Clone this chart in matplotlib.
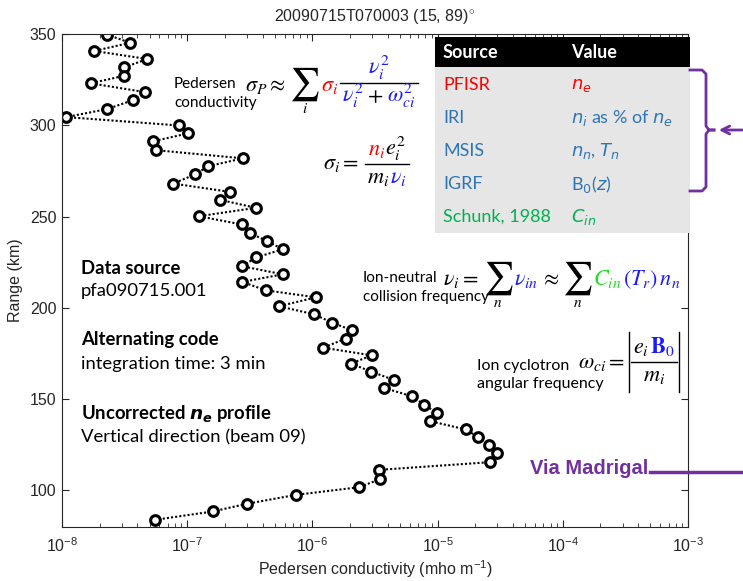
import numpy as np
import matplotlib
matplotlib.use('Agg')
import matplotlib.pyplot as plt
from matplotlib.lines import Line2D
from matplotlib.patches import Rectangle, FancyArrowPatch
from matplotlib.transforms import IdentityTransform

plt.rcParams['font.family'] = ['Liberation Sans', 'DejaVu Sans']
plt.rcParams['mathtext.fontset'] = 'custom'
plt.rcParams['mathtext.rm'] = 'Liberation Sans'
plt.rcParams['mathtext.it'] = 'Liberation Sans:italic'
plt.rcParams['mathtext.bf'] = 'Liberation Sans:bold'

# Pedersen conductivity profile (mho/m) vs range (km)
sigma_p = [2.28e-8, 3.5e-8, 1.81e-8, 4.8e-8, 3.13e-8, 3.13e-8, 1.69e-8, 4.6e-8, 3.7e-8, 2.3e-8,
           1.08e-8, 8.6e-8, 1.02e-7, 5.3e-8, 5.6e-8, 2.77e-7, 1.46e-7, 1.16e-7, 7.7e-8, 2.21e-7,
           1.82e-7, 3.54e-7, 1.24e-7, 2.72e-7, 3.18e-7, 4.3e-7, 5.8e-7, 3.54e-7, 2.75e-7, 5.8e-7,
           2.75e-7, 4.26e-7, 1.07e-6, 5.4e-7, 1.03e-6, 1.44e-6, 2.08e-6, 1.85e-6, 1.22e-6, 2.98e-6,
           2.03e-6, 2.95e-6, 4.49e-6, 3.75e-6, 6.3e-6, 7.8e-6, 9.8e-6, 8.7e-6, 1.68e-5, 2.11e-5,
           2.57e-5, 2.96e-5, 2.62e-5, 3.42e-6, 3.47e-6, 2.36e-6, 7.4e-7, 2.99e-7, 1.6e-7, 5.5e-8]
range_km = [349.7, 345.2, 340.7, 336.3, 331.7, 327.1, 323.0, 318.2, 313.8, 308.9,
            304.5, 299.9, 295.6, 291.2, 286.4, 281.9, 277.5, 273.1, 268.1, 263.5,
            259.2, 254.8, 250.2, 245.7, 241.0, 236.7, 232.1, 227.6, 222.8, 218.4,
            214.2, 209.6, 205.8, 200.9, 196.5, 191.9, 187.7, 183.2, 178.2, 174.0,
            169.5, 165.1, 160.5, 156.1, 151.5, 147.0, 142.6, 138.0, 133.4, 129.2,
            124.7, 120.5, 115.5, 111.3, 106.2, 101.8, 97.6, 92.7, 88.5, 83.9]

xticks = [1e-8, 1e-7, 1e-6, 1e-5, 1e-4, 1e-3]
yticks = [100, 150, 200, 250, 300, 350]

table_sources = ['PFISR', 'IRI', 'MSIS', 'IGRF', 'Schunk, 1988']
table_values = [r'$n_e$', r'$n_i$ as % of $n_e$', r'$n_n$, $T_n$', r'B$_0$($z$)', r'$C_{in}$']
table_colors = ['#ff0000', '#2e75b6', '#2e75b6', '#2e75b6', '#00b050']

W, H = 743, 581
purple = '#7030a0'
blue = '#1a1aff'
red = '#ff0000'
green = '#22dd22'
EQ = 16      # equation font size
SUB = 11     # summation index size
SIG = 24     # big sum size

fig = plt.figure(figsize=(W / 100, H / 100), dpi=100)
ax = fig.add_axes([62 / W, 1 - 527 / H, (688 - 62) / W, (527 - 34) / H])

ax.plot(sigma_p, range_km, color='k', linestyle=(0, (1, 1)), linewidth=1.5,
        marker='o', markersize=7, markerfacecolor='white', markeredgecolor='k',
        markeredgewidth=2.2)

ax.set_xscale('log')
ax.set_xlim(1e-8, 1e-3)
ax.set_ylim(80, 350)
ax.set_xticks(xticks)
ax.set_yticks(yticks)
ax.tick_params(which='both', direction='in', top=True, right=True, colors='#262626',
               labelsize=11.5)
ax.tick_params(which='major', length=5)
ax.tick_params(which='minor', length=3)
ax.tick_params(axis='x', pad=7)
ax.tick_params(axis='y', pad=4)
for s in ax.spines.values():
    s.set_color('#262626')
ax.set_xlabel('Pedersen conductivity (mho m$^{-1}$)', fontsize=11.5, color='#262626',
              labelpad=2)
ax.set_ylabel('Range (km)', fontsize=11.5, color='#262626', labelpad=5)
ax.set_title(r'20090715T070003 (15, 89)$^{\circ}$', fontsize=11.5, color='#262626', pad=9)

renderer = fig.canvas.get_renderer()
ident = IdentityTransform()


def ftext(x, y, s, **kw):
    return fig.text(x / W, 1 - y / H, s, **kw)


def put(x, y, s, color='k', size=EQ, ha='left', va='baseline'):
    # x, y in pixels from the top-left corner
    return fig.text(x, H - y, s, color=color, fontsize=size, ha=ha, va=va,
                    math_fontfamily='stix', transform=ident, zorder=6)


def fline(xs, ys, color='k', lw=1.0):
    fig.add_artist(Line2D([x / W for x in xs], [1 - y / H for y in ys], color=color,
                          linewidth=lw, zorder=6))


def row(x, y, items, gap=0.5):
    # items: (mathtext, color[, extra gap]) or ('SUM', index)
    texts = []
    for item in items:
        if item[0] == 'SUM':
            t = put(x, y - 7, r'$\sum$', size=SIG, va='center')
            bb = t.get_window_extent(renderer)
            s = put((bb.x0 + bb.x1) / 2, y + 18, '$' + item[1] + '$', size=SUB,
                    ha='center', va='center')
            texts += [t, s]
            x = bb.x1 + gap
        else:
            t = put(x, y, item[0], color=item[1])
            texts.append(t)
            extra = item[2] if len(item) > 2 else 0
            x = t.get_window_extent(renderer).x1 + gap + extra
    return texts, x


def frac(x, ybar, num, den, pad=2):
    nt, nx = row(x, ybar - 9, num)
    dt, dx = row(x, ybar + 19, den)
    wn, wd = nx - x, dx - x
    w = max(wn, wd)
    for t in nt:
        t.set_x(t.get_position()[0] + (w - wn) / 2)
    for t in dt:
        t.set_x(t.get_position()[0] + (w - wd) / 2)
    fline([x - pad, x + w + pad], [ybar, ybar])
    return x + w + pad


def label2(x, y1, y2, l1, l2, size):
    ftext(x, y1, l1, fontsize=size, family=lato, va='center')
    ftext(x, y2, l2, fontsize=size, family=lato, va='center')


lato = ['Lato', 'DejaVu Sans']

# left annotations
ftext(81, 268, 'Data source', fontsize=13.3, fontweight='bold', family=lato, va='center')
ftext(81, 291, 'pfa090715.001', fontsize=13.3, family=lato, va='center')
ftext(81, 340, 'Alternating code', fontsize=13.3, fontweight='bold', family=lato, va='center')
ftext(81, 364, 'integration time: 3 min', fontsize=13.3, family=lato, va='center')
ftext(81, 413, r'Uncorrected $\mathbfit{n_e}$ profile', fontsize=13.3, fontweight='bold',
      family=lato, va='center', math_fontfamily='dejavusans')
ftext(81, 437, 'Vertical direction (beam 09)', fontsize=13.3, family=lato, va='center')

# Pedersen conductivity equation
label2(174, 84, 103, 'Pedersen', 'conductivity', 11)
_, xe = row(245, 91, [(r'$\sigma_P \approx$', 'k', 3), ('SUM', 'i'), (r'$\sigma_i$', red)])
frac(xe + 4, 83, [(r'$\nu_i^2$', blue)],
     [(r'$\nu_i^2$', blue, 3), (r'$+$', 'k', 3), (r'$\omega_{ci}^2$', blue)])

# sigma_i
_, xe = row(323, 169, [(r'$\sigma_i =$', 'k')])
frac(xe + 8, 164, [(r'$n_i$', red), (r'$e_i^2$', 'k')], [(r'$m_i$', 'k'), (r'$\nu_i$', blue)])

# ion-neutral collision frequency
label2(363, 278, 297, 'Ion-neutral', 'collision frequency', 11)
row(443, 285, [(r'$\nu_i =$', 'k', 4), ('SUM', 'n'), (r'$\nu_{in}$', blue, 2),
               (r'$\approx$', 'k', 2), ('SUM', 'n'), (r'$C_{in}$', green, 1),
               (r'$(T_r)\,n_n$', blue)])

# ion cyclotron angular frequency
label2(477, 366, 384, 'Ion cyclotron', 'angular frequency', 11.5)
_, xe = row(578, 368, [(r'$\omega_{ci} =$', 'k')])
xa = xe + 4
xb = frac(xa + 4, 362, [(r'$e_i$', 'k'), (r'$\mathbf{B}_0$', blue)], [(r'$m_i$', 'k')])
fline([xa, xa], [332, 392])
fline([xb + 2, xb + 2], [332, 392])

# data source table
fig.add_artist(Rectangle((435 / W, 1 - 67 / H), 255 / W, 30 / H, transform=fig.transFigure,
                         facecolor='black', edgecolor='none', zorder=5))
fig.add_artist(Rectangle((435 / W, 1 - 233 / H), 255 / W, 166 / H, transform=fig.transFigure,
                         facecolor='#e7e6e6', edgecolor='none', zorder=5))
ftext(443, 52, 'Source', fontsize=13, fontweight='bold', color='white', family=lato,
      va='center', zorder=6)
ftext(571, 52, 'Value', fontsize=13, fontweight='bold', color='white', family=lato,
      va='center', zorder=6)
for k, (src, val, col) in enumerate(zip(table_sources, table_values, table_colors)):
    yy = 85 + k * 33
    ftext(443, yy, src, fontsize=13, color=col, family=lato, va='center', zorder=6)
    ftext(571, yy, val, fontsize=13, color=col, family=lato, va='center', zorder=6,
          math_fontfamily='dejavusans')

# purple brace and arrow
fline([690, 702, 706, 706, 709, 714], [70, 70, 74, 126, 130, 130], color=purple, lw=2)
fline([690, 702, 706, 706, 709, 714], [191, 191, 187, 134, 130, 130], color=purple, lw=2)
fig.add_artist(FancyArrowPatch((745 / W, 1 - 130 / H), (716 / W, 1 - 130 / H),
                               transform=fig.transFigure, arrowstyle='->',
                               mutation_scale=14, color=purple, lw=2, zorder=6))

ftext(648, 469, 'Via Madrigal', fontsize=14.5, fontweight='bold', color=purple, ha='right',
      va='center', zorder=6)
fline([650, 745], [472, 472], color=purple, lw=2.5)

fig.savefig('out.png', dpi=100)
